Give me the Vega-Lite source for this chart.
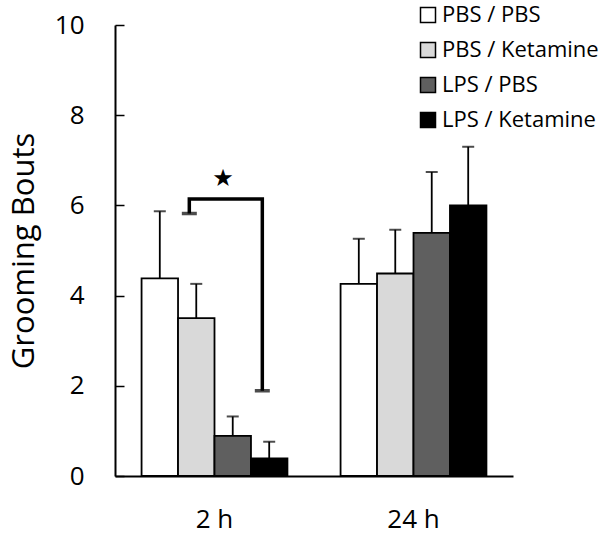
{
  "$schema": "https://vega.github.io/schema/vega-lite/v6.json",
  "width": 398,
  "height": 451,
  "autosize": "none",
  "padding": {"left": 115, "top": 25, "right": 95, "bottom": 59},
  "background": "white",
  "config": {
    "view": {"stroke": null},
    "font": "Open Sans",
    "axis": {"grid": false, "domainColor": "black", "domainWidth": 1.5, "labelColor": "black", "titleColor": "black", "labelFont": "Open Sans", "titleFont": "Open Sans"},
    "legend": {"labelFont": "Open Sans"}
  },
  "datasets": {
    "bars": [
      {"time": "2 h", "group": "PBS / PBS", "value": 4.38, "err": 5.87},
      {"time": "2 h", "group": "PBS / Ketamine", "value": 3.5, "err": 4.26},
      {"time": "2 h", "group": "LPS / PBS", "value": 0.89, "err": 1.32},
      {"time": "2 h", "group": "LPS / Ketamine", "value": 0.39, "err": 0.76},
      {"time": "24 h", "group": "PBS / PBS", "value": 4.26, "err": 5.26},
      {"time": "24 h", "group": "PBS / Ketamine", "value": 4.49, "err": 5.46},
      {"time": "24 h", "group": "LPS / PBS", "value": 5.39, "err": 6.74},
      {"time": "24 h", "group": "LPS / Ketamine", "value": 6.0, "err": 7.3}
    ],
    "bracket": [
      {"time": "2 h", "group": "PBS / Ketamine", "y": 5.82, "ord": 1},
      {"time": "2 h", "group": "PBS / Ketamine", "y": 6.14, "ord": 2},
      {"time": "2 h", "group": "LPS / Ketamine", "y": 6.14, "ord": 3},
      {"time": "2 h", "group": "LPS / Ketamine", "y": 1.89, "ord": 4}
    ],
    "star": [
      {"time": "2 h", "group": "LPS / PBS", "y": 6.58, "label": "★"}
    ]
  },
  "encoding": {
    "x": {
      "field": "time", "type": "nominal",
      "scale": {"domain": ["2 h", "24 h"], "paddingInner": 0.267, "paddingOuter": 0.1335},
      "axis": {"title": null, "labelAngle": 0, "ticks": false, "labelPadding": 30, "labelFontSize": 26, "domainWidth": 2}
    },
    "xOffset": {
      "field": "group", "type": "nominal",
      "scale": {"domain": ["PBS / PBS", "PBS / Ketamine", "LPS / PBS", "LPS / Ketamine"], "paddingInner": 0, "paddingOuter": 0}
    }
  },
  "resolve": {"scale": {"xOffset": "independent"}},
  "layer": [
    {
      "data": {"name": "bars"},
      "mark": {"type": "bar", "stroke": "black", "strokeWidth": 1.8},
      "encoding": {
        "y": {
          "field": "value", "type": "quantitative",
          "scale": {"domain": [0, 10], "nice": false},
          "axis": {"values": [0, 2, 4, 6, 8, 10], "title": "Grooming Bouts", "titleFontSize": 31, "titleFontWeight": "normal", "titlePadding": 14, "labelFontSize": 26, "tickSize": -9, "tickColor": "black", "tickWidth": 1.5, "labelPadding": 40, "domainWidth": 2}
        },
        "fill": {
          "field": "group", "type": "nominal",
          "scale": {"domain": ["PBS / PBS", "PBS / Ketamine", "LPS / PBS", "LPS / Ketamine"], "range": ["#ffffff", "#d9d9d9", "#5f5f5f", "#000000"]},
          "legend": {"title": null, "orient": "none", "legendX": 302, "legendY": -21, "symbolType": "square", "symbolSize": 225, "symbolStrokeColor": "black", "symbolStrokeWidth": 1.5, "labelFontSize": 22, "labelColor": "black", "rowPadding": 13, "labelOffset": 3}
        }
      }
    },
    {
      "data": {"name": "bars"},
      "mark": {"type": "rule", "color": "black", "strokeWidth": 1.8},
      "encoding": {
        "y": {"field": "value", "type": "quantitative"},
        "y2": {"field": "err"}
      }
    },
    {
      "data": {"name": "bars"},
      "mark": {"type": "tick", "color": "black", "thickness": 2, "size": 12},
      "encoding": {
        "y": {"field": "err", "type": "quantitative"}
      }
    },
    {
      "data": {"name": "bracket"},
      "layer": [
        {
          "mark": {"type": "line", "color": "black", "strokeWidth": 3.5, "strokeCap": "butt", "strokeJoin": "miter"},
          "encoding": {
            "xOffset": {"field": "group", "type": "nominal", "scale": {"domain": ["PBS / PBS", "PBS / Ketamine", "LPS / PBS", "LPS / Ketamine"], "range": [-7, 139], "paddingInner": 0, "paddingOuter": 0}},
            "y": {"field": "y", "type": "quantitative"},
            "order": {"field": "ord", "type": "quantitative"}
          }
        },
        {
          "transform": [{"filter": "datum.ord == 1 || datum.ord == 4"}],
          "mark": {"type": "tick", "color": "black", "thickness": 3.5, "size": 15},
          "encoding": {
            "xOffset": {"field": "group", "type": "nominal", "scale": {"domain": ["PBS / PBS", "PBS / Ketamine", "LPS / PBS", "LPS / Ketamine"], "range": [-7, 139], "paddingInner": 0, "paddingOuter": 0}},
            "y": {"field": "y", "type": "quantitative"}
          }
        }
      ]
    },
    {
      "data": {"name": "star"},
      "mark": {"type": "text", "font": "DejaVu Sans", "fontSize": 24, "color": "black", "baseline": "middle"},
      "encoding": {
        "xOffset": {"field": "group", "type": "nominal", "scale": {"domain": ["PBS / PBS", "PBS / Ketamine", "LPS / PBS", "LPS / Ketamine"], "range": [-16, 130], "paddingInner": 0, "paddingOuter": 0}},
        "y": {"field": "y", "type": "quantitative"},
        "text": {"field": "label"}
      }
    }
  ]
}
